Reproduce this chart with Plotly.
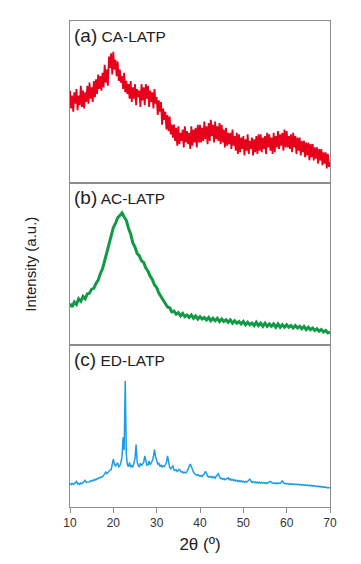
import numpy as np
import plotly.graph_objects as go
from plotly.subplots import make_subplots

# 2-theta grids (degrees)
two_theta_fine = np.round(np.arange(10, 70.001, 0.25), 2)
two_theta_b = np.round(np.arange(10, 70.001, 0.5), 2)

# (a) CA-LATP, read at 0.25 deg steps (noisy)
ca_latp = [
    57,46,54,44, 56,49,58,45, 54,48,60,47, 57,46,56,50, 60,49,62,52,
    59,50,63,53, 64,55,67,58, 66,57,68,59, 73,62,70,60, 78,71,80,67,
    81,70,76,66, 75,63,70,62, 66,58,68,56, 63,55,61,52, 63,50,59,52,
    61,48,58,53, 57,47,61,51, 59,48,61,52, 60,47,57,50, 56,46,58,49,
    53,42,51,44, 50,36,46,39, 44,33,42,32, 41,30,36,28, 36,26,34,23,
    35,24,31,26, 33,22,35,25, 32,24,31,21, 35,23,33,25, 34,22,36,25,
    36,25,34,26, 38,27,35,24, 37,26,39,29, 36,25,38,27, 35,26,37,24,
    36,25,33,22, 34,23,31,24, 31,21,33,23, 29,20,31,18, 30,19,28,21,
    29,17,27,20, 30,18,26,21, 28,17,27,19, 29,18,30,20, 30,19,28,21,
    29,18,31,22, 30,20,28,18, 31,19,29,22, 32,21,30,23, 31,20,33,22,
    32,22,29,21, 30,19,31,22, 29,18,28,20, 28,17,26,19, 26,16,25,17,
    25,14,24,16, 24,14,22,15, 22,12,21,14, 21,11,19,12, 19,9,18,10,
    13,
]

# (b) AC-LATP, read at 0.5 deg steps
ac_latp = [
    25.5,23.5,26.5,25,28.5,27,30,28.5,31.5,32,34.5,35,38,40,44,47,52,57,62.5,67,
    72.5,75,78.5,80,81.5,79,77,72,68.5,63,60.5,56.5,55,52,51,47.5,45.5,42.5,40.5,37,
    35.5,32,30,27.5,26,23.5,23,20.5,21,19,20,18,19.5,17.5,18.5,17,18.5,16.5,18,16,
    17.5,16,17,15.5,17,15,16.5,15,16.5,14.5,16,14.5,15.5,14,15.5,13.5,15,13.5,14.5,13,
    14.5,12.5,14,12.5,13.5,12,14,12,13.5,11.5,13.5,11.5,13,11.5,13,11,13,11,12.5,11,
    12.5,11,12,10.5,12,10.5,11.5,10,11.5,9.5,11,9.5,10.5,9,10,8.5,9.5,8,9,7.5,
    8,
]

# (c) ED-LATP, read at 0.25 deg steps
ed_latp = [
    14.5,13.8,14.6,14.0, 14.3,15.2,15.8,14.2, 14.6,14.0,14.8,14.3, 15.0,15.5,16.5,15.2,
    15.3,15.8,15.5,16.2, 16.0,16.6,16.3,17.0, 16.8,17.5,17.4,18.2, 18.0,18.8,18.6,19.5,
    20.5,21.5,20.6,21.5, 22.0,22.8,23.0,26.0, 29.5,26.5,25.0,26.5, 27.0,24.8,25.5,27.5,
    31.0,43.0,35.0,78.0, 32.0,26.0,25.0,27.5, 24.5,25.5,24.8,27.0, 30.0,38.5,28.0,25.5,
    25.0,27.0,25.5,26.5, 27.5,31.5,28.0,25.8, 26.0,28.5,26.0,27.0, 28.5,31.0,35.5,31.0,
    28.0,26.5,27.0,25.0, 26.0,24.5,25.5,25.0, 26.0,27.5,31.5,28.0, 24.5,23.5,24.5,25.5,
    23.0,22.5,23.0,22.0, 22.5,23.5,22.0,21.5, 21.8,21.0,21.5,21.0, 22.0,23.5,25.0,26.5,
    25.0,23.0,21.5,20.5, 20.0,19.5,20.0,19.2, 19.0,19.5,18.8,19.8, 20.5,22.0,21.0,19.0,
    18.5,19.0,18.2,18.8, 18.0,18.6,17.8,19.0, 19.5,20.5,18.5,17.5, 17.8,17.0,17.6,16.8,
    17.2,17.8,18.0,16.8, 17.5,16.5,17.0,16.2, 16.8,16.0,16.5,15.8, 16.3,15.6,16.2,15.5,
    15.9,15.3,15.8,15.4, 15.8,16.5,17.2,15.6, 15.2,15.6,15.0,15.5, 14.9,15.4,14.8,15.3,
    14.7,15.2,14.8,15.1, 14.6,15.0,14.6,15.2, 15.4,15.8,15.0,14.7, 14.9,14.4,14.8,14.3,
    14.8,14.5,14.6,15.2, 16.3,15.0,14.4,14.6, 14.2,14.5,14.0,14.4, 14.0,14.3,13.9,14.2,
    13.8,14.1,13.7,14.0, 13.6,13.9,13.5,13.8, 13.4,13.7,13.3,13.6, 13.2,13.5,13.0,13.3,
    12.9,13.2,12.8,13.0, 12.6,12.9,12.5,12.7, 12.3,12.6,12.2,12.4, 12.0,12.2,11.8,12.0,
    11.6,
]

panel_labels = ["(a)", "(b)", "(c)"]
panel_names = ["CA-LATP", "AC-LATP", "ED-LATP"]
x_ticks = [10, 20, 30, 40, 50, 60, 70]

RED = "#e8001a"
GREEN = "#119a46"
BLUE = "#1c9de6"
AXIS = "#8c8c8c"
FONT = "Liberation Sans, Arial"

fig = make_subplots(rows=3, cols=1, shared_xaxes=True, vertical_spacing=0)

fig.add_trace(go.Scatter(x=two_theta_fine, y=ca_latp, mode="lines",
                         line=dict(color=RED, width=1.8), showlegend=False), row=1, col=1)
fig.add_trace(go.Scatter(x=two_theta_b, y=ac_latp, mode="lines",
                         line=dict(color=GREEN, width=3), showlegend=False), row=2, col=1)
fig.add_trace(go.Scatter(x=two_theta_fine, y=ed_latp, mode="lines",
                         line=dict(color=BLUE, width=1.5), showlegend=False), row=3, col=1)

for r in (1, 2, 3):
    fig.update_yaxes(range=[0, 100], showticklabels=False, ticks="", showgrid=False,
                     zeroline=False, showline=True, linecolor=AXIS, linewidth=1,
                     mirror=True, row=r, col=1)
    fig.update_xaxes(range=[10, 70], showgrid=False, zeroline=False, showline=True,
                     linecolor=AXIS, linewidth=1, mirror=True, row=r, col=1)

fig.update_xaxes(tickvals=x_ticks, ticks="outside", ticklen=5, tickcolor=AXIS,
                 tickfont=dict(family=FONT, size=12, color="#333333"),
                 title=dict(text="2θ (º)", font=dict(family=FONT, size=17, color="#222222"),
                            standoff=8),
                 row=3, col=1)

domains = ["y domain", "y2 domain", "y3 domain"]
for i in range(3):
    fig.add_annotation(
        xref="x domain" if i == 0 else f"x{i+1} domain", yref=domains[i],
        x=0.0, y=1.0, xanchor="left", yanchor="top", showarrow=False, xshift=2, yshift=-2,
        text=f"<span style='font-size:19px'>{panel_labels[i]}</span> {panel_names[i]}",
        font=dict(family=FONT, size=15.5, color="#222222"))

fig.add_annotation(xref="paper", yref="paper", x=-0.155, y=0.5, textangle=-90,
                   showarrow=False, xanchor="center", yanchor="middle",
                   text="Intensity (a.u.)",
                   font=dict(family=FONT, size=15, color="#222222"))

fig.update_layout(width=353, height=556, margin=dict(l=62, r=31, t=13, b=57),
                  paper_bgcolor="white", plot_bgcolor="white")

fig.write_html("out.html")
